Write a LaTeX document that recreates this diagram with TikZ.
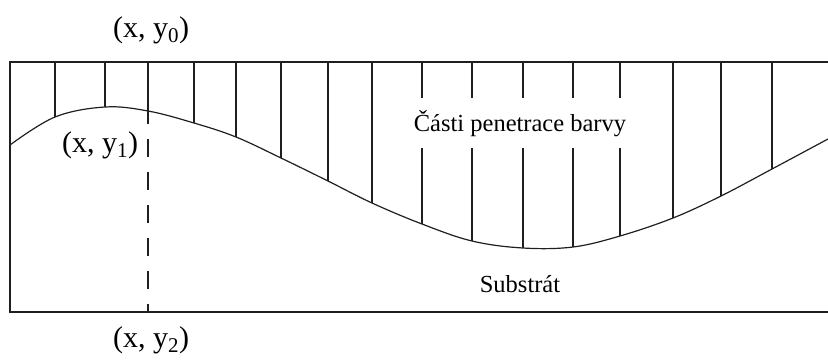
\documentclass[tikz,border=0pt]{standalone}
\usepackage{fontspec}
\setmainfont{Liberation Serif}
\begin{document}
\begin{tikzpicture}[x=1pt,y=-1pt,
  ln/.style={line width=1.2pt,draw=black!88},
  lbl/.style={font=\fontsize{30}{33}\selectfont,inner sep=0pt},
  body/.style={font=\fontsize{24.5}{27}\selectfont}]
\useasboundingbox (0,0) rectangle (828,362);
% hatch lines (ending on curve points)
\foreach \x/\y in {55/117,105/107,148/111,194/123,236/137,281/158,328/181,372/203,422/224,472/241,523/248,573/247,620/236,673/218,721/196,772/169}
  \draw[ln] (\x,62) -- (\x,\y);
% curve
\draw[ln] plot[smooth,tension=0.6] coordinates {(10,145) (55,117) (105,107) (148,111) (194,123) (236,137) (281,158) (328,181) (372,203) (422,224) (472,241) (523,248) (573,247) (620,236) (673,218) (721,196) (772,169) (828,139)};
% box
\draw[ln] (828,62) -- (10,62) -- (10,312) -- (828,312);
% dashed line
\coordinate (c1) at (148,111);
\coordinate (c2) at (148,312);
\draw[ln,dash pattern=on 18pt off 15pt,dash phase=10pt] (c2) -- (c1);
% labels
\node[body,fill=white,minimum height=50pt,inner xsep=2pt,anchor=base] (pen) at (520,131) {Části penetrace barvy};
\node[body,anchor=base] (sub) at (520,292) {Substrát};
\node[lbl] (y0) at (151,30) {(x, y\textsubscript{0})};
\node[lbl] (y1) at (100,145) {(x, y\textsubscript{1})};
\node[lbl] (y2) at (151,340) {(x, y\textsubscript{2})};
\end{tikzpicture}
\end{document}
